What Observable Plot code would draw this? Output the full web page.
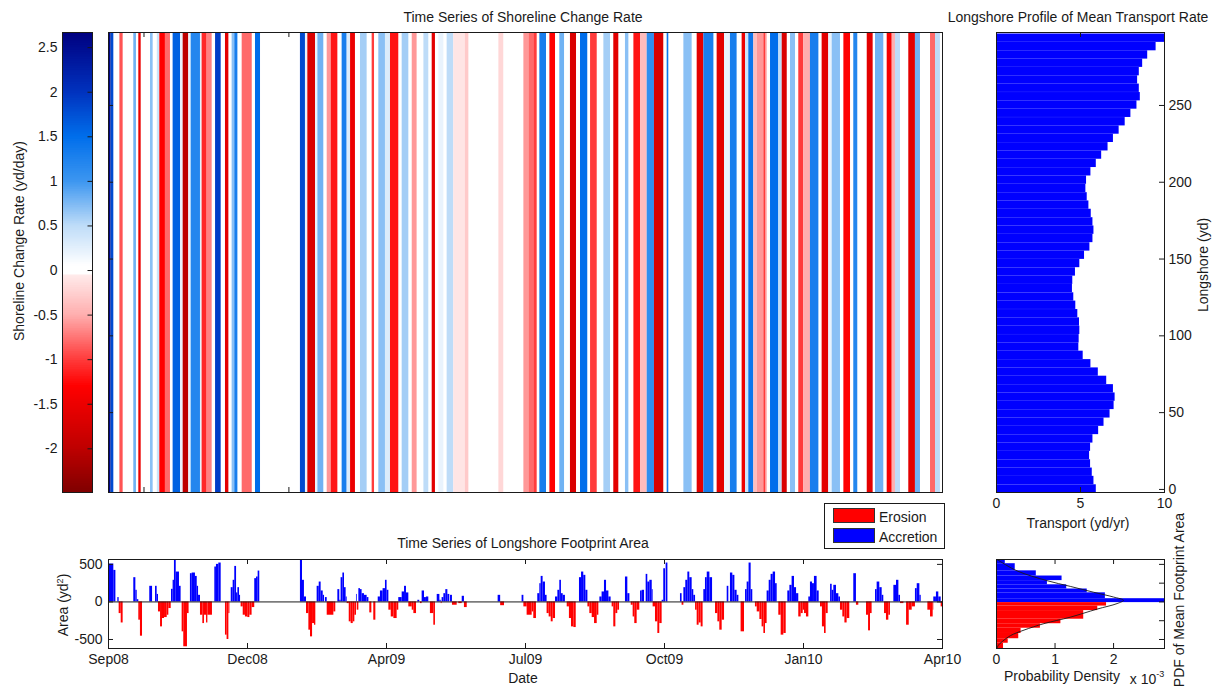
<!DOCTYPE html>
<html><head><meta charset="utf-8">
<script src="https://cdn.jsdelivr.net/npm/d3@7"></script>
<script src="https://cdn.jsdelivr.net/npm/@observablehq/plot@0.6"></script>
<style>
body{margin:0;background:#fff;}
#wrap{position:relative;width:1213px;height:687px;overflow:hidden;background:#fff;font-family:"Liberation Sans",Arial,Helvetica,sans-serif;color:#1a1a1a;}
.p{position:absolute;}
.t{position:absolute;font-size:14px;white-space:nowrap;color:#1a1a1a;line-height:1;}
.rot{transform:translate(-50%,-50%) rotate(-90deg);}
.ctr{transform:translate(-50%,-50%);}
#legend{position:absolute;left:824px;top:503px;width:119px;height:44px;border:1px solid #1a1a1a;background:#fff;}
.sw{position:absolute;left:8px;width:42px;height:15px;border:1px solid #333;box-sizing:border-box;}
.lt{position:absolute;left:54px;font-size:14px;line-height:1;}
</style></head><body><div id="wrap"></div>
<script>
// ---------------- DATA ----------------
const dateTickDays = [0, 94, 188, 282, 376, 470, 564];
const dateTickLabels = ["Sep08", "Dec08", "Apr09", "Jul09", "Oct09", "Jan10", "Apr10"];
const dayEnd = 564;

const rateTicks = [-2, -1.5, -1, -0.5, 0, 0.5, 1, 1.5, 2, 2.5];
const rateDomain = [-2.49, 2.67];
const rateStops = [-2.49, -2.0, -1.3, -1.0, -0.5, -0.06, -0.059, 0.05, 0.5, 1.0, 1.5, 2.0, 2.67];
const rateColors = ["#800000", "#be0000", "#ff0000", "#ff3c3c", "#ffafaf", "#ffeaea", "#ffffff", "#ffffff", "#bedcf8", "#3c96f0", "#006eeb", "#0032be", "#000080"];

// shoreline change rate stripes: [start day, rate yd/day]
const stripeRuns = [[0,2.6],[1.8,1.8],[3.6,0],[7.7,-0.9],[9.9,0],[17.1,0.8],[18.9,0],[20.5,-1.5],[22.1,0],[28.4,0.7],[30.2,0],[33.0,0.4],[34.7,-1.3],[38.5,-0.8],[41.9,0],[43.7,1.6],[48.7,0.2],[50.5,-2.0],[54.3,0.2],[55.9,1.2],[62.2,0.2],[63.3,-1.1],[66.7,-0.7],[70.1,0],[72.4,1.9],[76.2,0],[79.1,-1.6],[81.4,0],[83.6,0.7],[85.4,1.3],[87.5,0],[90.4,-0.8],[97.2,0],[99.4,1.5],[102.8,0],[129.8,1.8],[133.2,0.2],[134.8,-1.7],[140.0,0.2],[141.6,0.8],[145.6,0],[147.9,-0.6],[150.6,-1.2],[155.1,0],[158.0,1.3],[161.4,0.3],[163.7,-1.5],[167.0,0],[170.4,0.6],[174.9,0],[178.3,-1.0],[179.9,0],[182.8,0.7],[187.3,0.3],[190.7,-1.2],[196.3,0],[198.6,0.6],[203.1,0],[205.4,-0.6],[208.7,0],[213.3,0.5],[216.6,0],[218.9,-1.6],[221.1,0],[223.4,0.2],[226.8,0],[229.0,0.5],[233.5,-0.1],[241.4,-0.3],[243.7,0],[264.0,-0.2],[267.3,0],[280.9,-0.6],[284.3,-0.8],[287.6,-1.0],[289.9,0],[291.7,1.3],[296.2,0],[298.5,-1.3],[302.3,0],[305.2,0.8],[308.4,0],[312.4,-1.7],[316.5,0],[319.2,1.5],[324.1,0],[326.0,-1.0],[330.5,0],[335.0,0.6],[339.5,0],[341.7,-1.6],[345.1,0],[349.6,0.7],[351.9,0],[355.3,-1.2],[359.8,-0.4],[364.3,1.1],[369.2,-1.7],[375.5,0],[377.8,1.4],[378.9,0],[389.1,0.7],[394.7,0],[398.1,-1.6],[402.6,1.3],[409.4,0],[411.6,-1.6],[416.6,0.2],[420.6,1.3],[425.1,0],[428.5,-1.5],[430.8,0.4],[433.0,1.4],[436.4,-0.4],[438.7,-0.6],[443.2,-1.0],[444.3,-0.6],[445.4,0],[447.7,1.5],[453.3,0.5],[455.6,-1.7],[459.0,0],[461.2,0.7],[464.6,0],[466.8,-1.0],[470.2,-0.5],[474.7,1.3],[480.4,0],[482.6,-1.6],[487.1,0.2],[489.4,0.7],[495.0,0],[497.3,-1.3],[501.8,0],[504.0,1.2],[506.7,0],[513.1,-1.6],[517.1,0],[518.7,0.8],[524.3,0],[526.6,-1.4],[530.0,-0.5],[532.2,0.5],[535.6,0],[541.2,-1.6],[545.7,0.8],[549.1,0],[555.9,-0.8],[559.3,0.5],[562.6,0]];

// longshore footprint area: [start day, area yd^2] (+ accretion, - erosion)
const footprintRuns = [[0,505],[3.6,420],[5.0,0],[6.3,58],[7.2,-155],[8.6,-280],[9.9,0],[17.1,323],[18.5,155],[19.4,30],[20.5,-243],[21.6,-456],[23.0,0],[27.9,208],[29.8,0],[31.8,208],[32.9,100],[33.8,-133],[35.2,-332],[36.5,-221],[37.9,-208],[39.7,-177],[40.8,-88],[42.4,0],[42.6,168],[43.7,288],[44.6,562],[45.8,398],[48.0,208],[49.1,0],[49.8,-398],[50.9,-597],[53.4,-155],[54.5,0],[55.4,376],[56.6,385],[58.8,340],[60.0,208],[60.9,88],[62.2,-177],[63.8,-288],[64.9,-177],[66.3,-280],[67.2,-177],[70.3,0],[71.9,465],[73.0,500],[74.6,518],[76.2,0],[79.1,-442],[80.2,-500],[81.4,-155],[82.1,0],[83.0,190],[84.3,288],[85.4,473],[86.6,120],[87.5,190],[88.6,88],[89.3,0],[89.7,-66],[91.1,-177],[92.6,-200],[94.2,-208],[95.6,-177],[97.1,-75],[98.9,310],[100.1,332],[101.2,411],[102.3,0],[129.8,562],[131.2,288],[132.5,66],[133.9,-155],[135.5,-376],[136.6,-465],[138.0,-288],[139.3,-310],[140.2,0],[141.1,208],[142.5,265],[143.8,146],[145.2,88],[146.1,0],[146.7,58],[147.9,-177],[152.4,-133],[153.7,0],[155.1,164],[156.4,22],[157.3,323],[158.5,385],[159.6,190],[160.7,66],[161.4,-22],[162.8,-265],[164.1,-288],[165.5,-265],[166.6,-177],[167.7,100],[168.2,-110],[169.3,177],[170.4,164],[171.5,110],[173.1,88],[174.9,58],[176.1,0],[176.7,-146],[178.1,0],[179.4,-243],[180.8,0],[182.4,66],[183.9,146],[185.7,177],[187.3,288],[188.4,155],[189.6,-110],[191.2,-200],[193.0,-221],[195.2,-110],[196.3,58],[198.6,133],[200.2,208],[201.5,120],[203.1,-66],[205.4,-110],[206.5,-155],[208.3,0],[209.2,22],[210.5,0],[211.0,-22],[212.1,146],[213.7,58],[215.0,66],[216.6,0],[217.7,-155],[220.0,-310],[221.1,0],[222.3,100],[224.1,22],[225.0,-22],[225.6,58],[226.8,110],[228.1,164],[229.5,100],[230.8,0],[231.3,88],[232.6,-44],[235.8,0],[236.9,-22],[239.2,75],[240.7,-75],[242.6,0],[263.5,88],[265.2,-50],[267.8,0],[279.7,88],[280.9,-66],[283.1,-177],[286.5,-133],[287.6,-221],[289.4,0],[290.3,110],[291.7,243],[292.6,340],[293.9,265],[295.5,88],[296.6,-155],[298.0,-200],[299.4,-265],[300.7,-221],[302.3,66],[303.9,155],[305.2,288],[306.3,110],[307.5,88],[309.0,0],[310.2,-66],[311.7,-221],[313.1,-332],[314.7,-341],[316.3,0],[318.5,323],[319.9,398],[321.4,354],[322.8,155],[324.2,-66],[325.5,-155],[327.1,-208],[328.7,-288],[330.5,-177],[331.6,0],[332.3,66],[333.8,133],[335.4,288],[336.8,146],[338.4,66],[339.9,0],[340.6,-66],[341.7,-332],[343.1,-155],[344.4,-110],[345.6,0],[349.6,332],[351.2,110],[352.6,0],[353.5,-44],[354.8,-200],[355.9,-288],[357.5,-110],[359.3,0],[359.8,146],[360.9,155],[362.5,0],[363.6,367],[364.7,265],[366.1,288],[367.7,164],[368.3,-66],[369.9,-265],[371.5,-420],[372.8,-288],[374.4,22],[375.5,442],[376.7,0],[377.1,518],[378.3,0],[386.8,110],[387.9,-44],[389.1,190],[390.4,288],[391.8,398],[393.1,323],[394.7,164],[395.8,88],[397.0,-110],[398.1,-310],[399.4,-280],[400.8,-332],[402.1,0],[402.6,164],[403.7,323],[404.9,398],[406.7,323],[408.5,0],[410.5,-155],[412.1,-265],[413.4,-376],[415.0,-243],[416.6,0],[418.4,208],[419.5,0],[420.6,385],[422.2,354],[423.6,155],[425.1,88],[426.3,0],[427.8,-398],[430.1,0],[430.8,164],[431.9,265],[433.2,518],[434.6,164],[435.7,0],[437.5,-66],[438.7,-133],[440.5,-234],[442.0,-332],[443.2,-420],[444.3,-288],[445.4,146],[446.8,288],[448.1,367],[449.5,398],[451.1,243],[452.2,0],[453.3,-177],[454.9,-442],[456.7,-420],[458.3,0],[459.4,146],[460.8,221],[462.3,340],[463.9,190],[465.3,110],[466.8,-200],[468.4,-155],[469.8,-110],[470.7,-155],[472.0,-200],[473.6,66],[474.7,265],[476.1,243],[477.4,340],[479.2,146],[480.6,0],[481.5,-66],[482.8,-332],[484.2,-420],[485.3,-155],[486.7,0],[488.3,235],[489.4,155],[490.5,221],[492.3,110],[493.9,66],[495.0,-110],[496.6,-200],[498.0,-280],[499.5,-221],[501.3,0],[504.0,376],[505.8,-44],[507.4,0],[512.6,-177],[514.0,-385],[515.3,-155],[516.4,0],[518.7,164],[519.8,265],[521.6,190],[523.2,88],[524.3,0],[524.8,-155],[526.1,-243],[527.7,-177],[528.8,0],[531.1,221],[532.9,288],[534.5,88],[535.6,-22],[537.9,0],[539.7,-310],[541.5,-110],[543.5,-66],[545.7,177],[546.9,243],[548.7,88],[549.6,0],[554.1,-110],[555.9,-200],[557.7,-110],[558.1,66],[559.9,133],[561.5,66],[563.1,-66]];

// longshore profile of mean transport rate
const longshorePos = [0.3,5.8,11.2,16.6,22.1,27.5,32.9,38.4,43.8,49.2,54.7,60.1,65.5,71.0,76.4,81.8,87.3,92.7,98.1,103.6,109.0,114.4,119.9,125.3,130.8,136.2,141.6,147.1,152.5,157.9,163.4,168.8,174.2,179.7,185.1,190.5,196.0,201.4,206.8,212.3,217.7,223.1,228.6,234.0,239.4,244.9,250.3,255.7,261.2,266.6,272.0,277.5,282.9,288.3,293.8];
const transportRate = [5.94,5.8,5.7,5.6,5.54,5.6,5.74,6.08,6.4,6.76,7.0,7.06,6.96,6.56,6.06,5.62,5.16,4.9,4.92,4.96,4.94,4.84,4.72,4.6,4.52,4.54,4.7,4.96,5.24,5.56,5.74,5.8,5.74,5.64,5.5,5.4,5.32,5.36,5.62,5.94,6.26,6.64,6.96,7.3,7.66,8.0,8.36,8.56,8.5,8.4,8.5,8.7,9.0,9.5,10.0];
const binHalf = 2.72;

// PDF of mean footprint area: [area low, area high, density]
const pdfAccretionBins = [[509,565,0.15e-3],[414,509,0.32e-3],[345,414,0.68e-3],[284,345,1.12e-3],[228,284,0.87e-3],[172,228,1.2e-3],[121,172,1.55e-3],[43,121,1.86e-3],[-9,43,3.3e-3]];
const pdfErosionBins = [[-55,-9,1.88e-3],[-115,-55,1.73e-3],[-230,-115,1.49e-3],[-290,-230,1.1e-3],[-350,-290,0.75e-3],[-420,-350,0.42e-3],[-490,-420,0.38e-3],[-550,-490,0.2e-3],[-620,-550,0.12e-3]];
// fitted PDF curve: [area, density]
const pdfCurve = [[565,0.01e-3],[560,0.02e-3],[414,0.35e-3],[284,0.86e-3],[207,1.26e-3],[129,1.66e-3],[65,2.0e-3],[22,2.17e-3],[-22,2.06e-3],[-95,1.72e-3],[-203,1.26e-3],[-289,0.81e-3],[-375,0.47e-3],[-448,0.24e-3],[-526,0.1e-3],[-578,0.03e-3],[-615,0.01e-3]];

const transportTicks = [0, 5, 10];
const longshoreTicks = [0, 50, 100, 150, 200, 250];
const longshoreDomain = [-2, 297.5];
const areaDomain = [-620, 565];
const areaTicks = [-500, 0, 500];
const pdfAreaTicks = [-500, -250, 0, 250, 500];
const densityTicks = [0, 1e-3, 2e-3];
const densityDomain = [0, 2.87e-3];
const heatmapXTicks = [24, 122];

// ---------------- DRAW ----------------
const FONT = '"Liberation Sans", Arial, Helvetica, sans-serif';
const style = {fontFamily: FONT, fontSize: "14px", color: "#1a1a1a", background: "transparent", overflow: "visible"};
const wrap = document.getElementById("wrap");
function place(el, left, top) { const d = document.createElement("div"); d.className = "p"; d.style.left = left + "px"; d.style.top = top + "px"; d.appendChild(el); wrap.appendChild(d); }
function text(html, x, y, cls) { const d = document.createElement("div"); d.className = "t " + (cls || "ctr"); d.style.left = x + "px"; d.style.top = y + "px"; d.innerHTML = html; wrap.appendChild(d); }
const per = (dom, px) => (dom[1] - dom[0]) / px; // data units per pixel
const colorOpts = {type: "linear", domain: rateStops, range: rateColors, interpolate: "rgb", clamp: true};

function runsToRows(runs, end) {
  const rows = [];
  runs.forEach(([d, v], i) => {
    const next = i + 1 < runs.length ? runs[i + 1][0] : end;
    if (v !== 0) rows.push({x1: d, x2: next, v});
  });
  return rows;
}
const stripes = runsToRows(stripeRuns, dayEnd);
const footRows = runsToRows(footprintRuns, dayEnd).map(r => ({...r, kind: r.v > 0 ? "Accretion" : "Erosion"}));
const profile = longshorePos.map((p, i) => ({pos: p, t: transportRate[i]}));
const pdfBins = pdfAccretionBins.map(([lo, hi, d]) => ({lo, hi, d, kind: "Accretion"}))
  .concat(pdfErosionBins.map(([lo, hi, d]) => ({lo, hi, d, kind: "Erosion"})));
const fpColor = {domain: ["Erosion", "Accretion"], range: ["#ff0000", "#0000ff"]};

// Colorbar
const cbStep = 0.02;
const cbSteps = d3.range(rateDomain[0], rateDomain[1], cbStep);
place(Plot.plot({
  width: 100, height: 500, marginLeft: 62, marginRight: 8, marginTop: 32, marginBottom: 8, style,
  x: {domain: [0, 1], axis: null},
  y: {domain: rateDomain, ticks: rateTicks, tickFormat: d => String(d), tickSize: 0, tickPadding: 5, label: null},
  color: colorOpts,
  marks: [
    Plot.rect(cbSteps, {x1: 0, x2: 1, y1: d => d, y2: d => Math.min(d + cbStep * 1.5, rateDomain[1]), fill: d => d + cbStep / 2}),
    Plot.ruleY(rateTicks, {x1: 0.85, x2: 1, stroke: "#1a1a1a"}),
    Plot.frame({stroke: "#1a1a1a"})
  ]
}), 0, 0);

// Heatmap
{
  const xd = [0, dayEnd], yd = longshoreDomain;
  const tx = 5 * per(xd, 834), ty = 5 * per(yd, 460);
  place(Plot.plot({
    width: 850, height: 500, marginLeft: 8, marginRight: 8, marginTop: 32, marginBottom: 8, style,
    x: {domain: xd, axis: null},
    y: {domain: yd, axis: null},
    color: colorOpts,
    marks: [
      Plot.rect(stripes, {x1: "x1", x2: "x2", y1: yd[0], y2: yd[1], fill: "v"}),
      Plot.ruleY(longshoreTicks.slice(1), {x1: xd[0], x2: xd[0] + tx, stroke: "#1a1a1a"}),
      Plot.ruleX(heatmapXTicks, {y1: yd[0], y2: yd[0] + ty, stroke: "#1a1a1a"}),
      Plot.ruleX(heatmapXTicks, {y1: yd[1], y2: yd[1] - ty, stroke: "#1a1a1a"}),
      Plot.frame({stroke: "#1a1a1a"})
    ]
  }), 100, 0);
}

// Longshore profile
{
  const xd = [0, 10], yd = longshoreDomain;
  const tx = 5 * per(xd, 168), ty = 5 * per(yd, 460);
  place(Plot.plot({
    width: 273, height: 530, marginLeft: 56, marginRight: 49, marginTop: 32, marginBottom: 38, style,
    x: {domain: xd, ticks: transportTicks, tickFormat: d => String(d), tickSize: 0, tickPadding: 6, label: null},
    y: {domain: yd, axis: "right", ticks: longshoreTicks, tickFormat: d => String(d), tickSize: 0, tickPadding: 4, label: null},
    marks: [
      Plot.rectX(profile, {x1: 0, x2: "t", y1: d => d.pos - binHalf, y2: d => d.pos + binHalf, fill: "#0000ff"}),
      Plot.ruleY(longshoreTicks, {x1: xd[1] - tx, x2: xd[1], stroke: "#1a1a1a"}),
      Plot.ruleX([5], {y1: yd[0], y2: yd[0] + ty, stroke: "#1a1a1a"}),
      Plot.ruleX([5], {y1: yd[1], y2: yd[1] - ty, stroke: "#1a1a1a"}),
      Plot.frame({stroke: "#1a1a1a"})
    ]
  }), 940, 0);
}

// Footprint time series
{
  const xd = [0, dayEnd], yd = areaDomain;
  const tx = 5 * per(xd, 834), ty = 5 * per(yd, 89);
  const inner = dateTickDays.slice(1, -1);
  place(Plot.plot({
    width: 950, height: 147, marginLeft: 108, marginRight: 8, marginTop: 19, marginBottom: 39, style,
    x: {domain: xd, ticks: dateTickDays, tickFormat: d => dateTickLabels[dateTickDays.indexOf(d)], tickSize: 0, tickPadding: 6, label: null},
    y: {domain: yd, ticks: areaTicks, tickFormat: d => String(d), tickSize: 0, tickPadding: 6, label: null},
    color: fpColor,
    marks: [
      Plot.rectY(footRows, {x1: "x1", x2: "x2", y1: 0, y2: "v", fill: "kind"}),
      Plot.ruleY([0], {stroke: "#1a1a1a"}),
      Plot.ruleX(inner, {y1: yd[0], y2: yd[0] + ty, stroke: "#1a1a1a"}),
      Plot.ruleX(inner, {y1: yd[1], y2: yd[1] - ty, stroke: "#1a1a1a"}),
      Plot.ruleY(areaTicks, {x1: xd[0], x2: xd[0] + tx, stroke: "#1a1a1a"}),
      Plot.ruleY(areaTicks, {x1: xd[1] - tx, x2: xd[1], stroke: "#1a1a1a"}),
      Plot.frame({stroke: "#1a1a1a"})
    ]
  }), 0, 540);
}

// PDF panel
{
  const xd = densityDomain, yd = areaDomain;
  const tx = 5 * per(xd, 168), ty = 5 * per(yd, 89);
  place(Plot.plot({
    width: 273, height: 147, marginLeft: 56, marginRight: 49, marginTop: 19, marginBottom: 39, style,
    x: {domain: xd, ticks: densityTicks, tickFormat: d => String(Math.round(d * 1e3)), tickSize: 0, tickPadding: 6, label: null},
    y: {domain: yd, axis: null},
    color: fpColor,
    marks: [
      Plot.rectX(pdfBins, {x1: 0, x2: "d", y1: "lo", y2: "hi", fill: "kind", clip: true}),
      Plot.line(pdfCurve, {x: d => d[1], y: d => d[0], stroke: "#1a1a1a", strokeWidth: 0.9, curve: "catmull-rom", clip: true}),
      Plot.ruleY(pdfAreaTicks, {x1: xd[1] - tx, x2: xd[1], stroke: "#1a1a1a"}),
      Plot.ruleX(densityTicks.slice(1), {y1: yd[0], y2: yd[0] + ty, stroke: "#1a1a1a"}),
      Plot.ruleX(densityTicks.slice(1), {y1: yd[1], y2: yd[1] - ty, stroke: "#1a1a1a"}),
      Plot.frame({stroke: "#1a1a1a"})
    ]
  }), 940, 540);
}

// Texts
text("Time Series of Shoreline Change Rate", 523, 17);
text("Longshore Profile of Mean Transport Rate", 1078, 17);
text("Shoreline Change Rate (yd/day)", 19, 241, "rot");
text("Longshore (yd)", 1203, 265, "rot");
text("Transport (yd/yr)", 1078, 523);
text("Time Series of Longshore Footprint Area", 523, 543);
text("Area (yd<sup style='font-size:9px'>2</sup>)", 63, 605, "rot");
text("Date", 523, 678);
text("Probability Density", 1062, 676);
text("x 10<sup style='font-size:9px;position:relative;top:-2px'>-3</sup>", 1147, 679);
text("PDF of Mean Footprint Area", 1179, 600, "rot");

// Legend
const lg = document.createElement("div"); lg.id = "legend";
lg.innerHTML = "<div class='sw' style='top:4px;background:#ff0000'></div><div class='lt' style='top:6px'>Erosion</div>" +
  "<div class='sw' style='top:24px;background:#0000ff'></div><div class='lt' style='top:26px'>Accretion</div>";
wrap.appendChild(lg);
</script></body></html>
